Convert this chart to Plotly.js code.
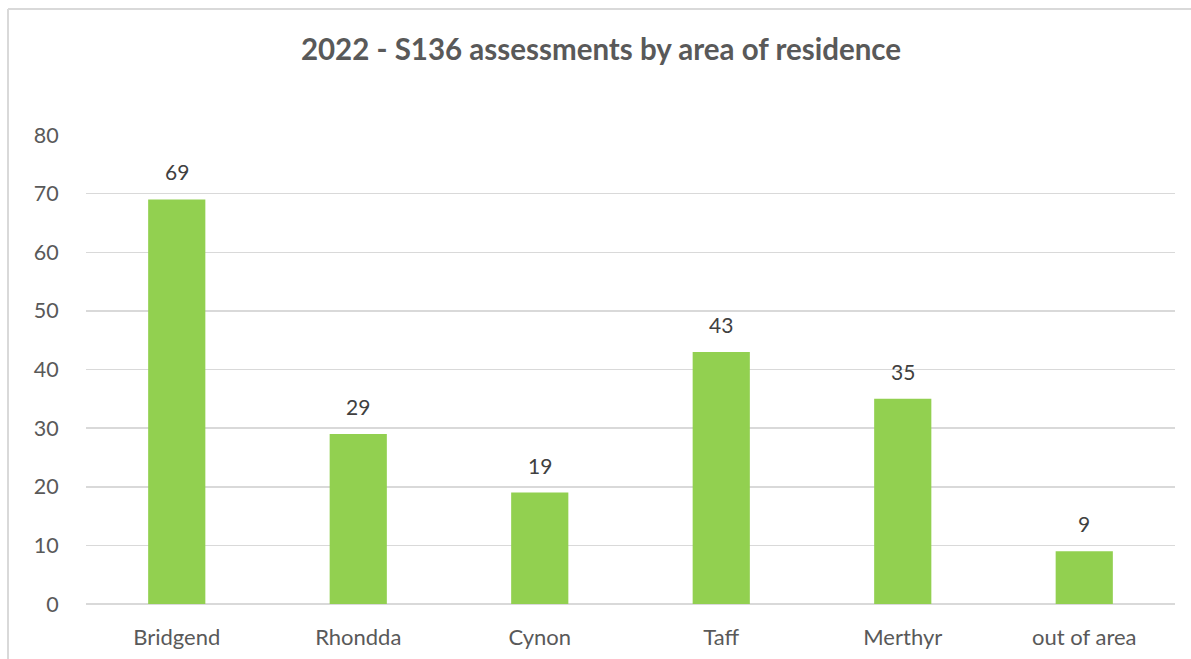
<!DOCTYPE html>
<html>
<head>
<meta charset="utf-8">
<script src="https://cdn.plot.ly/plotly-3.0.1.min.js"></script>
<style>html,body{margin:0;padding:0;background:#fff;}#chart{width:1191px;height:659px;}</style>
</head>
<body>
<div id="chart"></div>
<script>
var categories = ["Bridgend", "Rhondda", "Cynon", "Taff", "Merthyr", "out of area"];
var values = [69, 29, 19, 43, 35, 9];
var yTicks = [0, 10, 20, 30, 40, 50, 60, 70, 80];
var chartTitle = "2022 - S136 assessments by area of residence";

var textColor = "#595959";
var fontFam = "Lato, 'Open Sans', sans-serif";

var trace = {
  type: "bar",
  x: categories,
  y: values,
  marker: {color: "#92d050"},
  hoverinfo: "none"
};

var annotations = categories.map(function(c, i) {
  return {
    x: c, y: values[i], xref: "x", yref: "y",
    text: String(values[i]), showarrow: false,
    yanchor: "bottom", yshift: 13,
    font: {family: fontFam, size: 21, color: "#404040"}
  };
});

var layout = {
  width: 1191, height: 659,
  margin: {l: 86, r: 16, t: 135, b: 55},
  paper_bgcolor: "#fff", plot_bgcolor: "#fff",
  bargap: 0.685,
  showlegend: false,
  title: {
    text: "<b>" + chartTitle + "</b>",
    x: 0.5046, xref: "container", xanchor: "center", y: 0.925, yanchor: "middle",
    font: {family: fontFam, size: 29.5, color: textColor}
  },
  xaxis: {
    type: "category",
    showgrid: false,
    ticks: "outside", ticklen: 14, tickcolor: "rgba(0,0,0,0)",
    tickfont: {family: fontFam, size: 22, color: textColor},
    showline: false, fixedrange: true
  },
  yaxis: {
    range: [0, 80],
    tickvals: yTicks,
    ticktext: yTicks.map(String),
    showgrid: true, gridcolor: "#d9d9d9", gridwidth: 1.5,
    zeroline: true, zerolinecolor: "#d9d9d9", zerolinewidth: 1.5,
    ticks: "outside", ticklen: 22, tickcolor: "rgba(0,0,0,0)",
    tickfont: {family: fontFam, size: 21.5, color: textColor},
    showline: false, fixedrange: true
  },
  annotations: annotations,
  shapes: [
    {type: "line", xref: "paper", yref: "paper",
     x0: (8 - 86) / 1089, x1: (8 - 86) / 1089,
     y0: -(659 - 604) / 469 - 0.01, y1: 1 + (135 - 9) / 469,
     line: {color: "#d9d9d9", width: 2}},
    {type: "line", xref: "paper", yref: "paper",
     x0: (8 - 86) / 1089, x1: 1 + 16 / 1089 + 0.01,
     y0: 1 + (135 - 9) / 469, y1: 1 + (135 - 9) / 469,
     line: {color: "#d9d9d9", width: 2}}
  ]
};

Plotly.newPlot("chart", [trace], layout, {displayModeBar: false, staticPlot: true});
</script>
</body>
</html>
